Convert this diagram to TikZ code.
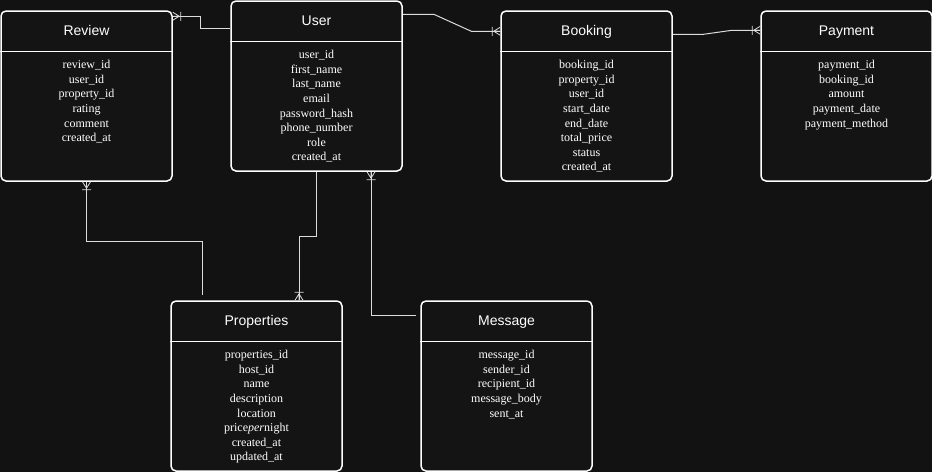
\documentclass[tikz,border=0pt]{standalone}
\usepackage{fontspec}
\setmainfont{Liberation Serif}
\newfontfamily\headfont{Liberation Sans}
\usetikzlibrary{positioning}

\definecolor{canvas}{RGB}{18,18,18}
\definecolor{boxfill}{RGB}{20,20,20}
\definecolor{linkgray}{RGB}{220,220,220}

\begin{document}
\begin{tikzpicture}[
    x=1pt, y=-1pt,
    table/.style={draw=white, line width=1.5pt, fill=boxfill, rounded corners=5pt, minimum width=171pt, minimum height=170pt, inner sep=0pt},
    head/.style={text=white, inner sep=0pt, anchor=base, font=\headfont\fontsize{14}{16}\selectfont},
    fields/.style={text=white, align=center, inner sep=0pt, font=\fontsize{12}{14.6}\selectfont},
    divider/.style={white, line width=1.5pt},
    link/.style={linkgray, line width=1pt},
    crow/.pic={\draw[linkgray, line width=0.8pt] (0pt,-4pt) -- (6.5pt,0pt) -- (0pt,4pt) (0pt,0pt) -- (6.5pt,0pt) (8pt,-4.5pt) -- (8pt,4.5pt);}
]
    % Canvas
    \fill[canvas] (0,0) rectangle (932,472);
    \useasboundingbox (0,0) rectangle (932,472);

    % Tables
    \node[table] (review) at (86.5, 96) {};
    \node[head] (review-h) at ([yshift=-25.5pt]review.north) {Review};
    \draw[divider] ([yshift=-41pt]review.north west) -- ([yshift=-41pt]review.north east);
    \node[fields, below=50pt of review.north] (review-f) {review\_id\\user\_id\\property\_id\\rating\\comment\\created\_at};

    \node[table] (user) at (316.5, 86) {};
    \node[head] (user-h) at ([yshift=-25.5pt]user.north) {User};
    \draw[divider] ([yshift=-41pt]user.north west) -- ([yshift=-41pt]user.north east);
    \node[fields, below=50pt of user.north] (user-f) {user\_id\\first\_name\\last\_name\\email\\password\_hash\\phone\_number\\role\\created\_at};

    \node[table] (booking) at (586.5, 96) {};
    \node[head] (booking-h) at ([yshift=-25.5pt]booking.north) {Booking};
    \draw[divider] ([yshift=-41pt]booking.north west) -- ([yshift=-41pt]booking.north east);
    \node[fields, below=50pt of booking.north] (booking-f) {booking\_id\\property\_id\\user\_id\\start\_date\\end\_date\\total\_price\\status\\created\_at};

    \node[table] (payment) at (846.5, 96) {};
    \node[head] (payment-h) at ([yshift=-25.5pt]payment.north) {Payment};
    \draw[divider] ([yshift=-41pt]payment.north west) -- ([yshift=-41pt]payment.north east);
    \node[fields, below=50pt of payment.north] (payment-f) {payment\_id\\booking\_id\\amount\\payment\_date\\payment\_method};

    \node[table] (properties) at (256.5, 386) {};
    \node[head] (properties-h) at ([yshift=-25.5pt]properties.north) {Properties};
    \draw[divider] ([yshift=-41pt]properties.north west) -- ([yshift=-41pt]properties.north east);
    \node[fields, below=50pt of properties.north] (properties-f) {properties\_id\\host\_id\\name\\description\\location\\price\textit{per}night\\created\_at\\updated\_at};

    \node[table] (message) at (506.5, 386) {};
    \node[head] (message-h) at ([yshift=-25.5pt]message.north) {Message};
    \draw[divider] ([yshift=-41pt]message.north west) -- ([yshift=-41pt]message.north east);
    \node[fields, below=50pt of message.north] (message-f) {message\_id\\sender\_id\\recipient\_id\\message\_body\\sent\_at};

    % Relations
    \draw[link] ([yshift=-6pt]review.north east) -- ++(28,0) |- ([yshift=-28pt]user.north west);
    \pic at ([yshift=-6pt]review.north east) {crow};

    \draw[link] ([yshift=-14pt]user.north east) -- ++(31,0) -- ([xshift=-29pt,yshift=-21pt]booking.north west) -- ([yshift=-21pt]booking.north west);
    \pic[rotate=180] at ([yshift=-21pt]booking.north west) {crow};

    \draw[link] ([yshift=-24pt]booking.north east) -- ++(31,0) -- ([xshift=-28pt,yshift=-20pt]payment.north west) -- ([yshift=-20pt]payment.north west);
    \pic[rotate=180] at ([yshift=-20pt]payment.north west) {crow};

    \draw[link] (review.south) -- ++(0,60) -| ([xshift=-54.5pt,yshift=5pt]properties.north);
    \pic[rotate=-90] at (review.south) {crow};

    \draw[link] (user.south) -- ++(0,65) -| ([xshift=42.5pt]properties.north);
    \pic[rotate=90] at ([xshift=42.5pt]properties.north) {crow};

    \draw[link] ([xshift=54.5pt]user.south) |- ([xshift=-4pt,yshift=-15pt]message.north west);
    \pic[rotate=-90] at ([xshift=54.5pt]user.south) {crow};
\end{tikzpicture}
\end{document}
